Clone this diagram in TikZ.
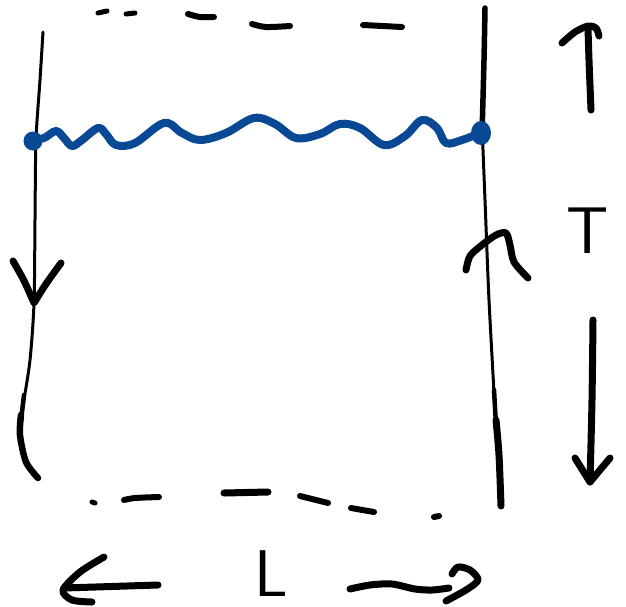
\documentclass[tikz,border=0pt]{standalone}
\definecolor{inkblue}{RGB}{8,72,148}
\begin{document}
\begin{tikzpicture}[x=1pt,y=-1pt,
  pen/.style={line width=#1, line cap=round, line join=round},
  pen/.default=7,
  label/.style={font=\sffamily\fontsize{66}{66}\selectfont, inner sep=0pt, anchor=base}]
\useasboundingbox (0,0) rectangle (626,606);

% left boundary, running down
\draw[pen=3] plot[smooth] coordinates {(43,32) (40,80) (36,140) (35,220) (34,303) (30,360) (24,400) (21,425)};
\draw[pen=4.5] plot[smooth] coordinates {(24,395) (21,420)};
\draw[pen=6.5] plot[smooth] coordinates {(21,415) (20,435) (26,462) (38,478)};
% arrowhead on the left boundary
\draw[pen=7] (13,261) .. controls (24,280) .. (34,303) .. controls (45,285) .. (61,263);

% right boundary
\draw[pen=5.5] plot[smooth] coordinates {(485,8) (484,60) (482,135)};
\draw[pen=3] plot[smooth] coordinates {(482,125) (485,200) (489,300) (495,410)};
\draw[pen=4.5] plot[smooth] coordinates {(494,390) (496,425)};
\draw[pen=7] plot[smooth] coordinates {(496,420) (499,455) (501,506)};
% arrowhead on the right boundary
\draw[pen=7] plot[smooth] coordinates {(466,270) (470,256) (482,245) (496,235) (506,233) (510,245) (514,262) (528,278)};

% wavy line between the two boundaries
\draw[inkblue, pen=8] plot[smooth, tension=0.6] coordinates {(32,140) (44,138) (56,131) (64,138) (72,146) (82,140) (98,128) (106,134) (116,145) (135,143) (164,123) (182,133) (200,140) (226,133) (254,118) (275,124) (296,138) (320,134) (340,124) (360,128) (384,145) (405,136) (422,120) (437,128) (446,143) (462,140) (480,133)};
\fill[inkblue] (33,141) circle (9.5);
\fill[inkblue] (481,133) ellipse (10 and 12);

% dashed top edge
\draw[pen=5] (98,13) -- (107,11);
\draw[pen=5] (126,14) -- (135,13);
\draw[pen=6] plot[smooth] coordinates {(188,14) (200,17) (214,17)};
\draw[pen=6] plot[smooth] coordinates {(252,24) (266,27) (290,26)};
\draw[pen=6] (363,25) -- (402,27);

% dashed bottom edge
\draw[pen=5] (92,502) -- (95,503);
\draw[pen=6] plot[smooth] coordinates {(124,500) (135,498) (159,497)};
\draw[pen=7] (224,493) -- (268,492);
\draw[pen=6] (300,496) -- (328,503);
\draw[pen=6] (351,508) -- (374,512);
\draw[pen=6] (434,517) -- (439,516);

% time extent on the right
\draw[pen=7] plot[smooth] coordinates {(591,110) (589,60) (588,28)};
\draw[pen=7] plot[smooth] coordinates {(562,43) (575,32) (588,26) (596,28) (599,36)};
\node[label] (T) at (588,253) {T};
\draw[pen=7] plot[smooth] coordinates {(593,320) (592,400) (590,482)};
\draw[pen=7] (575,458) -- (590,482) -- (610,458);

% length extent at the bottom
\draw[pen=7] (158,585) -- (64,588);
\draw[pen=7] plot[smooth] coordinates {(104,557) (80,572) (63,590) (72,600) (92,602)};
\node[label] (L) at (271,596) {L};
\draw[pen=7] plot[smooth] coordinates {(350,589) (370,585) (392,584) (415,589) (432,590) (449,588)};
\draw[pen=7] plot[smooth] coordinates {(452,574) (458,567) (470,570) (478,580) (466,590) (446,601)};
\end{tikzpicture}
\end{document}
